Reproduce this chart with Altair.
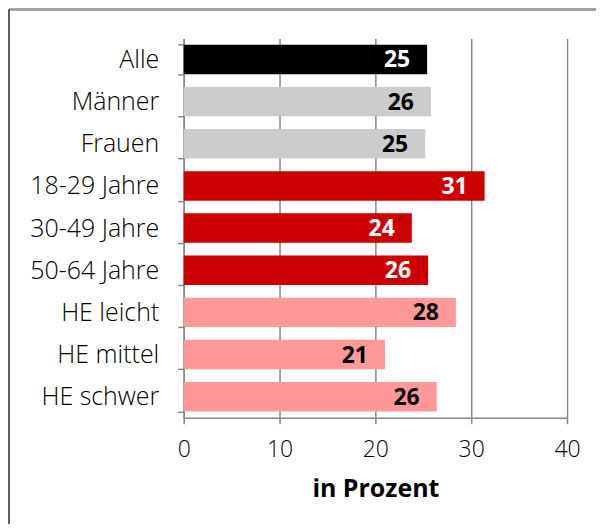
import altair as alt
import pandas as pd

categories = ["Alle", "Männer", "Frauen", "18-29 Jahre", "30-49 Jahre", "50-64 Jahre",
              "HE leicht", "HE mittel", "HE schwer"]
values = [25.4, 25.8, 25.2, 31.4, 23.8, 25.5, 28.4, 21.0, 26.4]
labels = ["25", "26", "25", "31", "24", "26", "28", "21", "26"]
groups = ["Gesamt", "Geschlecht", "Geschlecht", "Alter", "Alter", "Alter", "HE", "HE", "HE"]
group_names = ["Gesamt", "Geschlecht", "Alter", "HE"]
group_colors = ["#000000", "#cccccc", "#cc0000", "#ff9999"]
label_colors = ["#ffffff", "#000000", "#ffffff", "#000000"]

lc = dict(zip(group_names, label_colors))
df = pd.DataFrame({
    "cat": categories,
    "val": values,
    "lab": labels,
    "grp": groups,
    "lcol": [lc[g] for g in groups],
})

FONT = "Open Sans"

y = alt.Y("cat:N", sort=categories, title=None,
          scale=alt.Scale(paddingInner=0.3, paddingOuter=0.15),
          axis=alt.Axis(tickBand="extent", domainColor="#888888", domainWidth=1.5,
                        tickColor="#888888", tickWidth=1.5, tickSize=6,
                        labelFont=FONT, labelFontSize=25, labelFontWeight=300,
                        labelColor="#000000", labelPadding=19, grid=False))
x = alt.X("val:Q", title="in Prozent",
          scale=alt.Scale(domain=[0, 40]),
          axis=alt.Axis(values=[0, 10, 20, 30, 40], grid=True, gridColor="#888888",
                        gridWidth=1.5, domainColor="#888888", domainWidth=1.5,
                        tickColor="#888888", tickWidth=1.5, tickSize=6,
                        labelFlush=False,
                        labelFont=FONT, labelFontSize=23, labelFontWeight=300,
                        labelColor="#000000", labelPadding=15, titleFont=FONT,
                        titleFontSize=25, titleFontWeight="bold", titleColor="#000000",
                        titlePadding=15))

bars = alt.Chart(df).mark_bar(size=29.5).encode(
    x=x, y=y,
    color=alt.Color("grp:N", scale=alt.Scale(domain=group_names, range=group_colors),
                    legend=None),
)

texts = alt.Chart(df).mark_text(align="right", baseline="middle", dx=-17, dy=1,
                                font=FONT, fontSize=23, fontWeight="bold").encode(
    x="val:Q", y=alt.Y("cat:N", sort=categories),
    text="lab:N",
    color=alt.Color("lcol:N", scale=None),
)

border_top = alt.Chart(df).mark_rule(color="#a0a0a0", strokeWidth=1.5).encode(
    x=alt.value(-175), x2=alt.value(413), y=alt.value(-29))
border_left = alt.Chart(df).mark_rule(color="#606060", strokeWidth=1.5).encode(
    x=alt.value(-175), y=alt.value(-29), y2=alt.value(486))

chart = alt.layer(border_top, border_left, bars, texts).properties(
    width=384, height=380, padding=0
).configure_view(stroke=None)

chart.save("out.html", embed_options={"renderer": "svg", "actions": False})
